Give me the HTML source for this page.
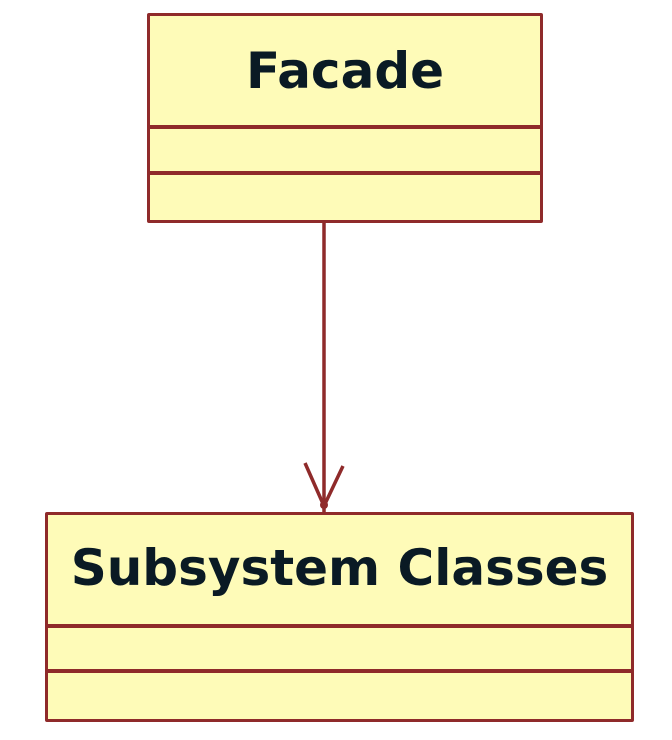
<!DOCTYPE html>
<html><head><style>
body{margin:0;width:672px;height:740px;background:#fff;position:relative;overflow:hidden;font-family:"DejaVu Sans","Liberation Sans",sans-serif;}
.box{position:absolute;background:#fefbb8;border:3.5px solid #8f2a2a;box-sizing:border-box;border-radius:2px;}
.hd{position:absolute;left:0;right:0;text-align:center;font-weight:bold;font-size:50px;color:#0a1a24;}
.ln{position:absolute;left:0;right:0;height:4px;background:#8f2a2a;}
</style></head><body>
<div class="box" style="left:147px;top:13px;width:396px;height:210px;">
  <div class="hd" style="top:25px;line-height:60px;">Facade</div>
  <div class="ln" style="top:109px;"></div>
  <div class="ln" style="top:155px;"></div>
</div>
<svg width="672" height="740" style="position:absolute;left:0;top:0">
  <line x1="324" y1="222" x2="324" y2="512" stroke="#8f2a2a" stroke-width="3.5"/>
  <polyline points="305,463 324,506 343,466" fill="none" stroke="#8f2a2a" stroke-width="3.5"/>
  <circle cx="324" cy="505" r="4" fill="#8f2a2a"/>
</svg>
<div class="box" style="left:45px;top:512px;width:589px;height:210px;">
  <div class="hd" style="top:23px;line-height:60px;">Subsystem Classes</div>
  <div class="ln" style="top:109px;"></div>
  <div class="ln" style="top:154px;"></div>
</div>
</body></html>
